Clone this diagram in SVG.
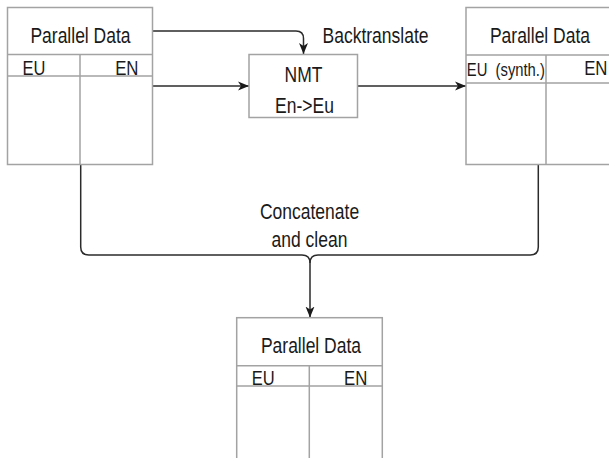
<svg xmlns="http://www.w3.org/2000/svg" width="609" height="458" viewBox="0 0 609 458">
<style>
.tb{fill:#fff;stroke:#a3a3a3;stroke-width:1.5}
.ln{fill:none;stroke:#a3a3a3;stroke-width:1.5}
.cn{fill:none;stroke:#2b2b2b;stroke-width:1.5}
text{font-family:"Liberation Sans",Arial,sans-serif;fill:#1a1a1a;font-size:17.5px}
.m{text-anchor:middle}
.e{text-anchor:end}
.s{font-size:14.8px}
</style>
<defs>
<marker id="ah" markerUnits="userSpaceOnUse" markerWidth="12" markerHeight="10" viewBox="0 0 12 10" refX="11" refY="5" orient="auto">
<path d="M0,0.5 L11,5 L0,9.5 L3,5 Z" fill="#1a1a1a"/>
</marker>
</defs>
<rect width="609" height="458" fill="#fff"/>
<g id="connectors">
<path class="cn" d="M153,31 H296 Q303.5,31 303.5,38.5 V54" marker-end="url(#ah)"/>
<path class="cn" d="M153,86 H249" marker-end="url(#ah)"/>
<path class="cn" d="M358,86 H466" marker-end="url(#ah)"/>
<path class="cn" d="M80.7,165 V247 Q80.7,255 88.7,255 H302 Q310,255 310,263"/>
<path class="cn" d="M538.3,165 V247 Q538.3,255 530.3,255 H318 Q310,255 310,263 V317.5" marker-end="url(#ah)"/>
</g>
<g id="label-backtranslate">
<text transform="translate(322.5,43.3) scale(1,1.23)">Backtranslate</text>
</g>
<g id="label-concat">
<text class="m" transform="translate(309.5,219.3) scale(1,1.23)">Concatenate</text>
<text class="m" transform="translate(309.5,246.7) scale(1,1.23)">and clean</text>
</g>
<g id="table-source">
<rect class="tb" x="7.5" y="7.5" width="145" height="157"/>
<path class="ln" d="M7.5,54.5 H152.5 M7.5,76 H152.5 M80,54.5 V164.5"/>
<text class="m" transform="translate(80.5,42.7) scale(1,1.23)">Parallel Data</text>
<text transform="translate(22.5,75) scale(1,1.23)" style="font-size:16.5px">EU</text>
<text class="e" transform="translate(138.5,75) scale(1,1.23)" style="font-size:16.8px">EN</text>
</g>
<g id="nmt">
<rect class="tb" x="249" y="54.5" width="108.5" height="63"/>
<text class="m" transform="translate(303.5,82) scale(1,1.23)">NMT</text>
<text class="m" transform="translate(304.5,113) scale(1,1.23)">En-&gt;Eu</text>
</g>
<g id="table-synth">
<rect class="tb" x="466" y="7.5" width="150" height="157"/>
<path class="ln" d="M466,55 H616 M466,83 H616 M546,55 V164.5"/>
<text class="m" transform="translate(540,43.3) scale(1,1.23)">Parallel Data</text>
<text class="s" transform="translate(466.8,76) scale(1,1.23)" xml:space="preserve">EU  (synth.)</text>
<text class="e" transform="translate(607.5,75) scale(1,1.23)" style="font-size:16.8px">EN</text>
</g>
<g id="table-result">
<rect class="tb" x="236.7" y="317.7" width="145.6" height="160"/>
<path class="ln" d="M236.7,365.7 H382.3 M236.7,386 H382.3 M309.3,365.7 V470"/>
<text class="m" transform="translate(311,353.3) scale(1,1.23)">Parallel Data</text>
<text transform="translate(251.7,385) scale(1,1.23)" style="font-size:16.5px">EU</text>
<text class="e" transform="translate(367.3,385) scale(1,1.23)" style="font-size:16.8px">EN</text>
</g>
</svg>
